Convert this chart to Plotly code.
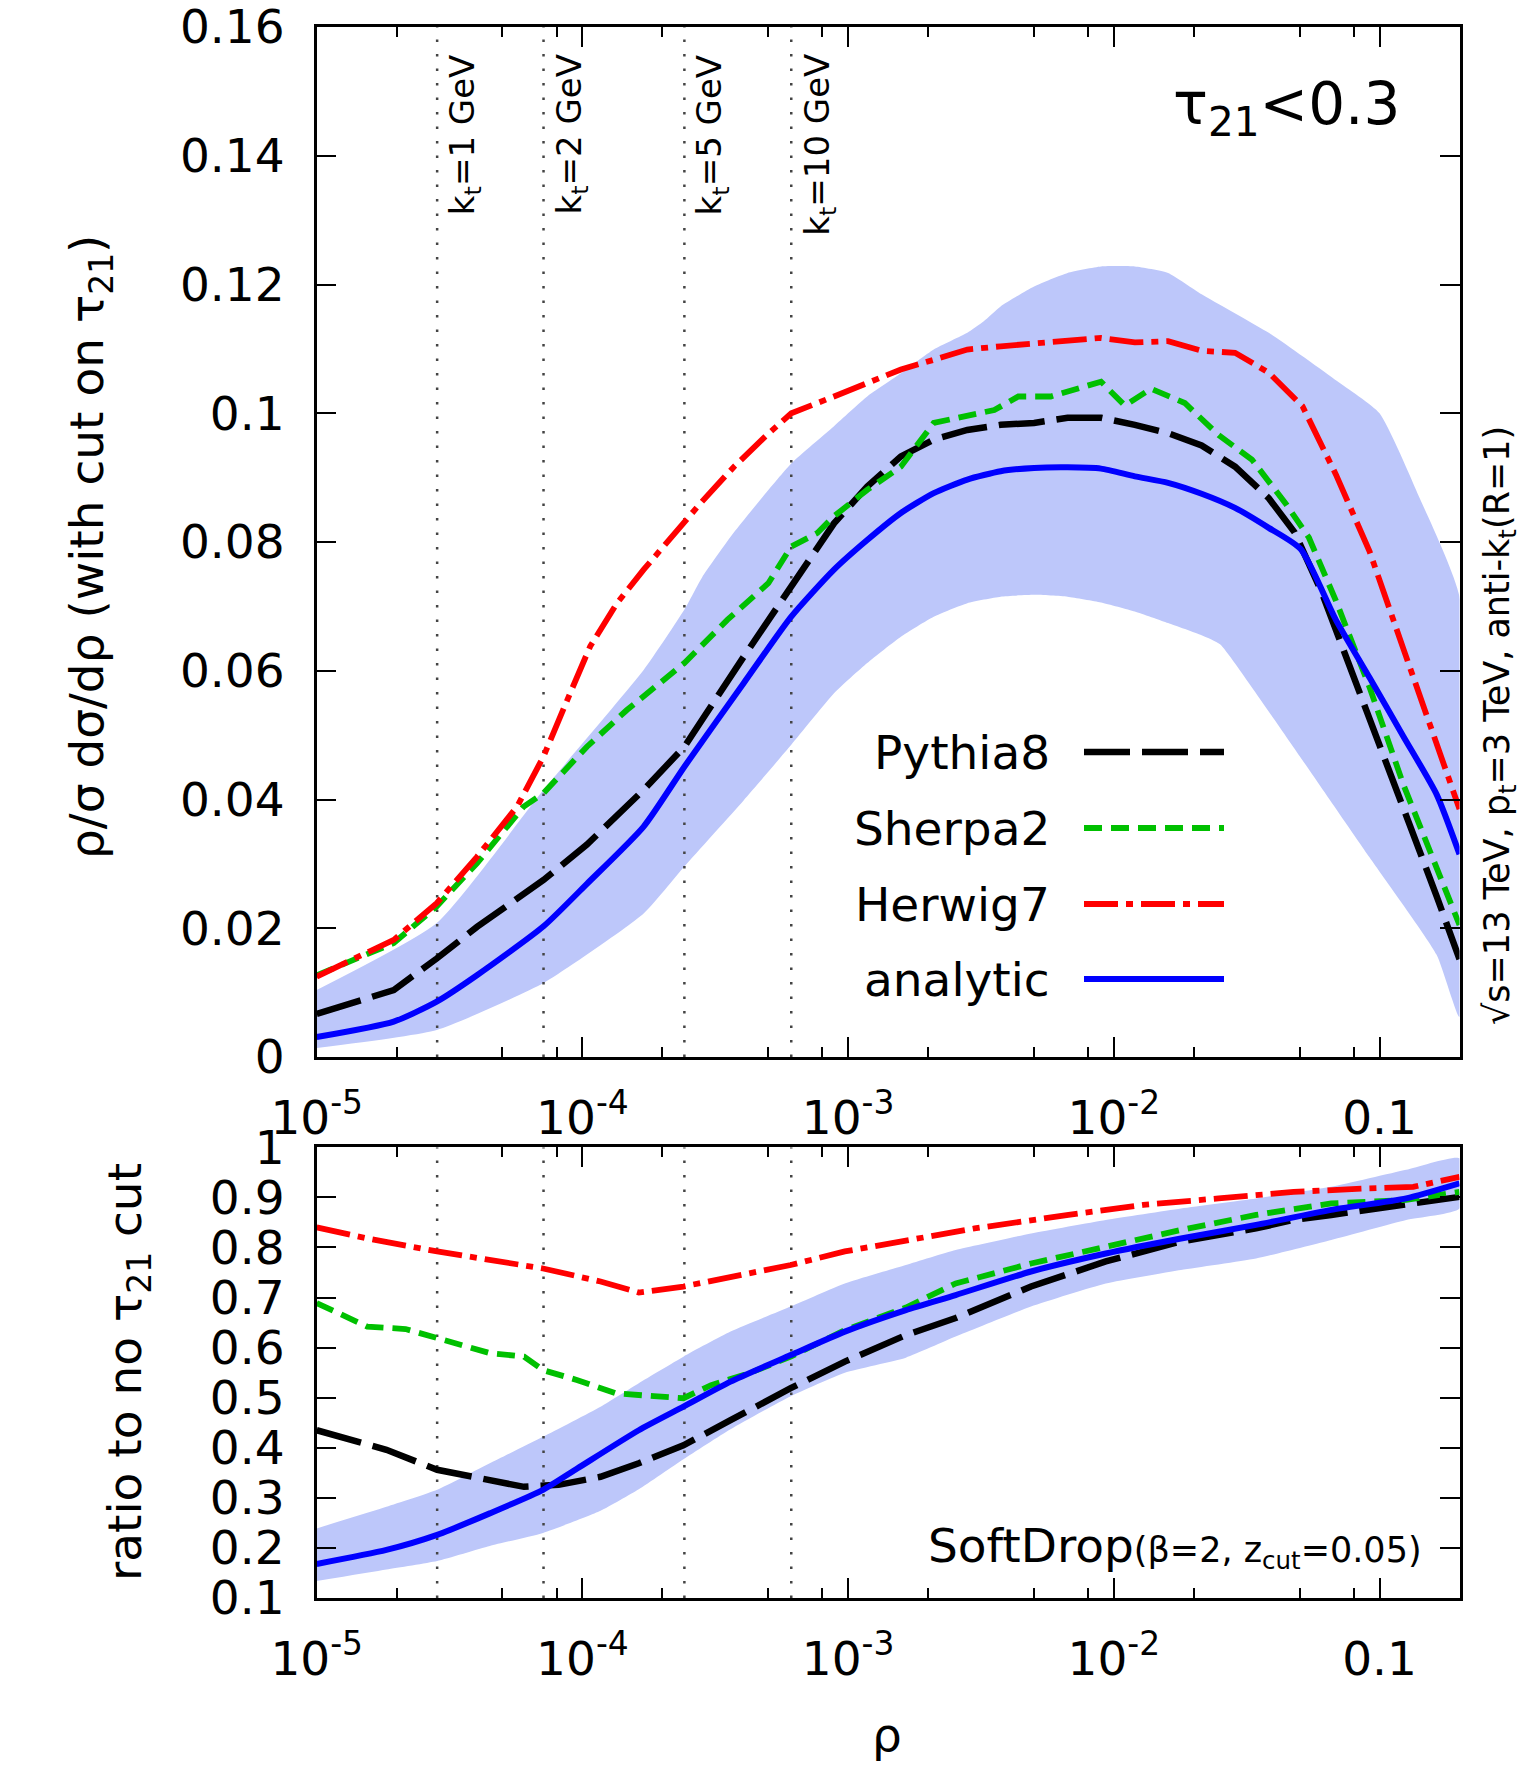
import math
import plotly.graph_objects as go

# ---------------- data ----------------
# top panel: rho/sigma dsigma/drho with tau21 cut
pythia_rho = [1e-5, 1.95e-5, 2.83e-5, 4.01e-5, 7.14e-5, 1.04e-4, 1.70e-4, 2.42e-4, 4.05e-4, 6.11e-4, 8.85e-4,
              1.18e-3, 1.58e-3, 2.10e-3, 2.81e-3, 3.75e-3, 5.01e-3, 6.70e-3, 8.95e-3, 1.20e-2, 1.60e-2, 2.14e-2,
              2.86e-2, 3.83e-2, 4.79e-2, 6.03e-2, 6.85e-2, 9.18e-2, 0.123, 0.164, 0.2]
pythia_val = [0.0067, 0.0104, 0.0153, 0.0202, 0.0275, 0.0330, 0.0415, 0.0482, 0.0622, 0.0731, 0.0829,
              0.0886, 0.0933, 0.0959, 0.0974, 0.0982, 0.0985, 0.0993, 0.0993, 0.0982, 0.0969, 0.0950,
              0.0917, 0.0868, 0.0815, 0.0724, 0.0664, 0.0529, 0.0385, 0.0250, 0.0152]

sherpa_rho = [1e-5, 1.95e-5, 2.83e-5, 4.01e-5, 6.01e-5, 7.14e-5, 1.04e-4, 1.47e-4, 2.42e-4, 3.51e-4, 5.01e-4,
              6.11e-4, 7.66e-4, 8.85e-4, 1.18e-3, 1.58e-3, 2.10e-3, 2.81e-3, 3.55e-3, 4.37e-3, 5.79e-3, 8.95e-3,
              1.10e-2, 1.38e-2, 1.85e-2, 2.48e-2, 3.31e-2, 4.43e-2, 5.42e-2, 6.85e-2, 9.18e-2, 0.123, 0.164, 0.2]
sherpa_val = [0.0127, 0.0177, 0.0234, 0.0301, 0.0389, 0.0410, 0.0482, 0.0539, 0.0612, 0.0679, 0.0736,
              0.0793, 0.0814, 0.0840, 0.0881, 0.0917, 0.0985, 0.0995, 0.1005, 0.1026, 0.1026, 0.1049,
              0.1012, 0.1038, 0.1016, 0.0966, 0.0928, 0.0860, 0.0807, 0.0709, 0.0574, 0.0423, 0.0295, 0.0205]

herwig_rho = [1e-5, 1.95e-5, 2.83e-5, 4.01e-5, 5.68e-5, 7.14e-5, 8.99e-5, 1.07e-4, 1.35e-4, 1.70e-4, 2.78e-4,
              3.72e-4, 4.97e-4, 6.11e-4, 8.85e-4, 1.18e-3, 1.58e-3, 2.10e-3, 2.81e-3, 3.75e-3, 5.01e-3, 6.70e-3,
              8.95e-3, 1.20e-2, 1.60e-2, 2.14e-2, 2.86e-2, 3.83e-2, 5.13e-2, 6.85e-2, 9.18e-2, 0.123, 0.164, 0.2]
herwig_val = [0.0125, 0.0182, 0.0239, 0.0311, 0.0389, 0.0467, 0.0565, 0.0638, 0.0705, 0.0757, 0.0860,
              0.0917, 0.0967, 0.1000, 0.1026, 0.1047, 0.1068, 0.1083, 0.1099, 0.1104, 0.1109, 0.1114,
              0.1117, 0.1110, 0.1112, 0.1097, 0.1094, 0.1063, 0.1011, 0.0905, 0.0785, 0.0634, 0.0483, 0.0385]

analytic_rho = [1e-5, 1.95e-5, 2.83e-5, 4.01e-5, 7.14e-5, 1.04e-4, 1.70e-4, 2.42e-4, 4.05e-4, 6.11e-4, 8.85e-4,
                1.18e-3, 1.58e-3, 2.10e-3, 2.81e-3, 3.75e-3, 5.01e-3, 6.70e-3, 8.95e-3, 1.20e-2, 1.60e-2,
                2.14e-2, 2.86e-2, 3.83e-2, 5.05e-2, 6.85e-2, 9.18e-2, 0.123, 0.164, 0.2]
analytic_val = [0.0031, 0.0055, 0.0086, 0.0127, 0.0203, 0.0269, 0.0358, 0.0451, 0.0581, 0.0684, 0.0757,
                0.0803, 0.0845, 0.0876, 0.0897, 0.0910, 0.0915, 0.0916, 0.0914, 0.0902, 0.0892,
                0.0875, 0.0853, 0.0822, 0.0789, 0.0679, 0.0589, 0.0498, 0.0408, 0.0315]

band_up_rho = [1e-5, 2.83e-5, 7.14e-5, 1.70e-4, 2.42e-4, 2.82e-4, 3.72e-4, 6.11e-4, 8.85e-4, 1.18e-3, 1.58e-3,
               2.10e-3, 2.81e-3, 3.24e-3, 3.75e-3, 5.01e-3, 6.70e-3, 8.95e-3, 1.20e-2, 1.60e-2, 2.14e-2,
               3.83e-2, 6.92e-2, 0.1, 0.141, 0.2]
band_up_val = [0.0104, 0.0208, 0.0415, 0.0601, 0.0695, 0.0745, 0.0815, 0.0922, 0.0980, 0.1026, 0.1062,
               0.1099, 0.1125, 0.1143, 0.1166, 0.1197, 0.1218, 0.1228, 0.1228, 0.1218, 0.1185,
               0.1125, 0.1050, 0.1000, 0.0870, 0.0715]
band_lo_rho = [1e-5, 2.83e-5, 7.14e-5, 1.70e-4, 2.42e-4, 4.05e-4, 6.11e-4, 8.85e-4, 1.18e-3, 1.58e-3, 2.10e-3,
               2.81e-3, 3.75e-3, 5.01e-3, 6.70e-3, 8.95e-3, 1.20e-2, 1.60e-2, 2.14e-2, 2.51e-2, 3.31e-2,
               5.13e-2, 9.18e-2, 0.164, 0.2]
band_lo_val = [0.0014, 0.0042, 0.0115, 0.0223, 0.0296, 0.0399, 0.0485, 0.0565, 0.0612, 0.0653, 0.0684,
               0.0705, 0.0715, 0.0718, 0.0715, 0.0706, 0.0692, 0.0674, 0.0655, 0.0641, 0.0574,
               0.0461, 0.0310, 0.0159, 0.0062]

# bottom panel: ratio to no tau21 cut
r_pythia_rho = [1e-5, 1.83e-5, 2.84e-5, 4.48e-5, 6.03e-5, 8.13e-5, 1.17e-4, 1.63e-4, 2.40e-4, 3.61e-4, 6.08e-4,
                9.72e-4, 1.65e-3, 2.54e-3, 4.88e-3, 9.33e-3, 1.79e-2, 3.43e-2, 4.75e-2, 6.58e-2, 9.10e-2, 0.126, 0.2]
r_pythia_val = [0.435, 0.396, 0.356, 0.336, 0.322, 0.326, 0.342, 0.369, 0.405, 0.455, 0.519,
                0.572, 0.625, 0.659, 0.722, 0.772, 0.812, 0.838, 0.855, 0.865, 0.875, 0.885, 0.901]

r_sherpa_rho = [1e-5, 1.55e-5, 2.16e-5, 2.84e-5, 4.48e-5, 6.03e-5, 7.11e-5, 9.59e-5, 1.33e-4, 1.86e-4, 2.40e-4,
                3.05e-4, 4.25e-4, 6.08e-4, 9.72e-4, 1.65e-3, 2.54e-3, 4.88e-3, 9.33e-3, 1.79e-2, 3.43e-2,
                6.58e-2, 0.126, 0.2]
r_sherpa_val = [0.689, 0.642, 0.637, 0.619, 0.589, 0.582, 0.555, 0.535, 0.509, 0.503, 0.499,
                0.525, 0.549, 0.582, 0.635, 0.680, 0.728, 0.768, 0.801, 0.835, 0.865,
                0.888, 0.895, 0.911]

r_herwig_rho = [1e-5, 1.55e-5, 2.84e-5, 4.48e-5, 7.11e-5, 1.17e-4, 1.63e-4, 2.40e-4, 3.61e-4, 6.08e-4, 9.72e-4,
                1.65e-3, 2.99e-3, 6.75e-3, 1.29e-2, 2.48e-2, 4.75e-2, 9.10e-2, 0.134, 0.2]
r_herwig_val = [0.840, 0.818, 0.792, 0.776, 0.758, 0.732, 0.710, 0.722, 0.742, 0.765, 0.792,
                0.815, 0.838, 0.865, 0.885, 0.898, 0.911, 0.918, 0.921, 0.941]

r_analytic_rho = [1e-5, 1.83e-5, 2.84e-5, 4.48e-5, 7.11e-5, 9.59e-5, 1.63e-4, 2.40e-4, 3.61e-4, 6.08e-4, 9.72e-4,
                  1.65e-3, 2.54e-3, 4.88e-3, 9.33e-3, 1.79e-2, 3.43e-2, 6.58e-2, 0.126, 0.2]
r_analytic_val = [0.168, 0.196, 0.226, 0.269, 0.316, 0.359, 0.435, 0.482, 0.532, 0.585, 0.632,
                  0.675, 0.705, 0.752, 0.788, 0.818, 0.845, 0.875, 0.898, 0.928]

r_band_rho = [1e-5, 1.83e-5, 2.84e-5, 4.48e-5, 7.11e-5, 1.17e-4, 1.63e-4, 2.40e-4, 3.61e-4, 6.08e-4, 9.72e-4,
              1.65e-3, 2.54e-3, 4.88e-3, 9.33e-3, 1.79e-2, 3.43e-2, 6.58e-2, 0.126, 0.2]
r_band_up_val = [0.239, 0.282, 0.316, 0.369, 0.422, 0.482, 0.529, 0.582, 0.632, 0.682, 0.728,
                 0.765, 0.795, 0.828, 0.855, 0.878, 0.898, 0.921, 0.955, 0.978]
r_band_lo_val = [0.134, 0.157, 0.174, 0.204, 0.230, 0.274, 0.317, 0.377, 0.437, 0.503, 0.550,
                 0.580, 0.622, 0.682, 0.728, 0.755, 0.778, 0.815, 0.855, 0.878]

# kt reference lines
kt_rho = [2.84e-5, 7.14e-5, 2.42e-4, 6.11e-4]
kt_labels = ["k<sub>t</sub>=1 GeV", "k<sub>t</sub>=2 GeV", "k<sub>t</sub>=5 GeV", "k<sub>t</sub>=10 GeV"]

# axis ticks
x_tickvals = [1e-5, 1e-4, 1e-3, 1e-2, 0.1]
x_ticktext = ["10<sup>-5</sup>", "10<sup>-4</sup>", "10<sup>-3</sup>", "10<sup>-2</sup>", "0.1"]
x_minor = [2e-5, 5e-5, 8e-5, 2e-4, 5e-4, 8e-4, 2e-3, 5e-3, 8e-3, 2e-2, 5e-2, 8e-2]
y1_tickvals = [0, 0.02, 0.04, 0.06, 0.08, 0.1, 0.12, 0.14, 0.16]
y1_ticktext = ["0", "0.02", "0.04", "0.06", "0.08", "0.1", "0.12", "0.14", "0.16"]
y2_tickvals = [0.1, 0.2, 0.3, 0.4, 0.5, 0.6, 0.7, 0.8, 0.9, 1.0]
y2_ticktext = ["0.1", "0.2", "0.3", "0.4", "0.5", "0.6", "0.7", "0.8", "0.9", "1"]

series_names = ["Pythia8", "Sherpa2", "Herwig7", "analytic"]

# ---------------- styles ----------------
FONT = "DejaVu Sans"
BAND = "rgb(189,199,250)"
styles = {
    "Pythia8": dict(color="#000000", width=6.5, dash="46px,12px"),
    "Sherpa2": dict(color="#00c000", width=5.8, dash="18px,9px"),
    "Herwig7": dict(color="#ff0000", width=5.8, dash="34px,8px,7px,8px"),
    "analytic": dict(color="#0000ff", width=6, dash="solid"),
}

fig = go.Figure()

def add_panel(xa, ya, band_x_up, band_y_up, band_x_lo, band_y_lo, curves, ytop, ybot):
    fig.add_trace(go.Scatter(
        x=list(band_x_up) + list(band_x_lo)[::-1],
        y=list(band_y_up) + list(band_y_lo)[::-1],
        fill="toself", fillcolor=BAND, line=dict(width=0, shape="spline", smoothing=0.5), mode="lines",
        xaxis=xa, yaxis=ya, showlegend=False, hoverinfo="skip"))
    for v in kt_rho:
        fig.add_trace(go.Scatter(
            x=[v, v], y=[ybot, ytop], mode="lines",
            line=dict(color="#444444", width=2.5, dash="2.5px,12px"),
            xaxis=xa, yaxis=ya, showlegend=False, hoverinfo="skip"))
    for name, (xs, ys) in zip(series_names, curves):
        st = dict(styles[name])
        if name == "analytic":
            st.update(shape="spline", smoothing=0.6)
        fig.add_trace(go.Scatter(x=xs, y=ys, mode="lines", name=name,
                                 line=st, xaxis=xa, yaxis=ya, showlegend=False))

add_panel("x", "y", band_up_rho, band_up_val, band_lo_rho, band_lo_val,
          [(pythia_rho, pythia_val), (sherpa_rho, sherpa_val),
           (herwig_rho, herwig_val), (analytic_rho, analytic_val)], 0.16, 0.0)
add_panel("x2", "y2", r_band_rho, r_band_up_val, r_band_rho, r_band_lo_val,
          [(r_pythia_rho, r_pythia_val), (r_sherpa_rho, r_sherpa_val),
           (r_herwig_rho, r_herwig_val), (r_analytic_rho, r_analytic_val)], 1.0, 0.1)

W, H = 1536, 1767
x_dom = [316.7 / W, 1459.5 / W]
y1_dom = [1 - 1057 / H, 1 - 27 / H]
y2_dom = [1 - 1598 / H, 1 - 1147.3 / H]

tickfont = dict(family=FONT, size=47, color="black")
common_x = dict(type="log", range=[-5, -0.69897], domain=x_dom, showline=True, linecolor="black",
                linewidth=2.5, mirror="allticks", ticks="inside", ticklen=20, tickwidth=2,
                tickcolor="black", tickvals=x_tickvals, ticktext=x_ticktext, tickfont=tickfont,
                showgrid=False, zeroline=False, ticklabelstandoff=18, automargin=False,
                ticklabeloverflow="allow",
                minor=dict(tickvals=x_minor, ticks="inside", ticklen=10, tickwidth=2, tickcolor="black"))
common_y = dict(showline=True, linecolor="black", linewidth=2.5, mirror="allticks", ticks="inside",
                ticklen=20, tickwidth=2, tickcolor="black", tickfont=tickfont, showgrid=False,
                zeroline=False, ticklabelstandoff=20, automargin=False, ticklabeloverflow="allow")

fig.update_layout(
    width=W, height=H, margin=dict(l=0, r=0, t=0, b=0, pad=0, autoexpand=False),
    paper_bgcolor="white", plot_bgcolor="white", showlegend=False,
    font=dict(family=FONT, color="black"),
    xaxis=dict(common_x, anchor="y"),
    yaxis=dict(common_y, domain=y1_dom, range=[0, 0.16], tickvals=y1_tickvals, ticktext=y1_ticktext, anchor="x"),
    xaxis2=dict(common_x, anchor="y2"),
    yaxis2=dict(common_y, domain=y2_dom, range=[0.1, 1.0], tickvals=y2_tickvals, ticktext=y2_ticktext, anchor="x2"),
)

ann = []
# axis titles
ann.append(dict(text="ρ/σ dσ/dρ (with cut on τ<sub>21</sub>)", x=90 / W, y=1 - 547 / H, xref="paper", yref="paper",
                textangle=-90, showarrow=False, font=dict(family=FONT, size=47), xanchor="center", yanchor="middle"))
ann.append(dict(text="ratio to no τ<sub>21</sub> cut", x=128 / W, y=1 - 1372 / H, xref="paper", yref="paper",
                textangle=-90, showarrow=False, font=dict(family=FONT, size=47), xanchor="center", yanchor="middle"))
ann.append(dict(text="ρ", x=887 / W, y=1 - 1734 / H, xref="paper", yref="paper", showarrow=False,
                font=dict(family=FONT, size=47), xanchor="center", yanchor="middle"))
# kt labels (annotation x on a log axis is given in log10 units)
for v, lab in zip(kt_rho, kt_labels):
    ann.append(dict(text=lab, x=math.log10(v), y=1 - 52 / H, xref="x", yref="paper", textangle=-90,
                    showarrow=False, xanchor="left", yanchor="top", xshift=3, font=dict(family=FONT, size=34)))
# tau21 cut label
ann.append(dict(text="τ<sub>21</sub>&lt;0.3", x=1402 / W, y=1 - 108 / H, xref="paper", yref="paper",
                showarrow=False, xanchor="right", yanchor="middle", font=dict(family=FONT, size=58)))
# side text
ann.append(dict(text="√s=13 TeV, p<sub>t</sub>=3 TeV, anti-k<sub>t</sub>(R=1)", x=1499 / W, y=1 - 726 / H,
                xref="paper", yref="paper", textangle=-90, showarrow=False, xanchor="center", yanchor="middle",
                font=dict(family=FONT, size=35)))
# SoftDrop label
ann.append(dict(text="SoftDrop<span style='font-size:35px'>(β=2, z<sub>cut</sub>=0.05)</span>",
                x=1424 / W, y=1 - 1546 / H, xref="paper", yref="paper", showarrow=False,
                xanchor="right", yanchor="middle", font=dict(family=FONT, size=47)))

# legend (text left of sample line)
legend_rows = [752, 828, 904, 979]
shapes = []
for name, yr in zip(series_names, legend_rows):
    ann.append(dict(text=name, x=1052 / W, y=1 - yr / H, xref="paper", yref="paper", showarrow=False,
                    xanchor="right", yanchor="middle", font=dict(family=FONT, size=47)))
    shapes.append(dict(type="line", xref="paper", yref="paper", x0=1084 / W, x1=1224 / W,
                       y0=1 - yr / H, y1=1 - yr / H, line=styles[name]))

fig.update_layout(annotations=ann, shapes=shapes)
fig.write_html("out.html")
